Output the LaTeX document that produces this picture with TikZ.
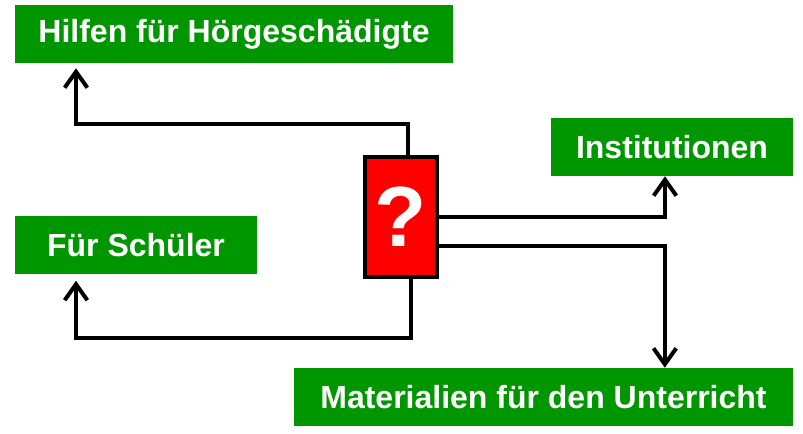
\documentclass[tikz,border=0pt]{standalone}
\usepackage{fontspec}
\setmainfont{Liberation Sans}
\usetikzlibrary{arrows.meta}
\definecolor{boxgreen}{RGB}{0,150,0}

\begin{document}
\begin{tikzpicture}[x=0.75pt, y=-0.75pt,
			topic/.style={fill=boxgreen, text=white, font=\bfseries\fontsize{24}{27}\selectfont, minimum height=43.5pt, inner sep=0pt},
			link/.style={line width=3pt, -{Straight Barb[length=12pt, width=17pt]}}]
			\useasboundingbox (0, 0) rectangle (803, 434);
			\node[topic, minimum width=328.5pt] (hilfen) at (234, 34) {Hilfen für Hörgeschädigte};
			\node[topic, minimum width=181.5pt] (inst) at (672, 147) {Institutionen};
			\node[topic, minimum width=181.5pt] (schueler) at (136, 245.5) {Für Schüler};
			\node[topic, minimum width=374.25pt] (mat) at (543.5, 397) {Materialien für den Unterricht};
			\node[draw, line width=3pt, fill=red, minimum width=54pt, minimum height=90pt, inner sep=0pt, text=white, font=\bfseries\fontsize{64}{64}\selectfont] (q) at (401, 217) {?};
	%		arrows from the question box
			\draw[link, shorten >=3.75pt] ([xshift=5.25pt]q.north) -- ++(0, -31) -| ([xshift=-118.5pt]hilfen.south);
			\draw[link] (q.east) -| ([xshift=-5.25pt]inst.south);
			\draw[link] ([yshift=-21.75pt]q.east) -| ([xshift=91pt]mat.north);
			\draw[link, shorten >=4.5pt] ([xshift=7.5pt]q.south) -- ++(0, 59) -| ([xshift=-45pt]schueler.south);
			\end{tikzpicture}
\end{document}
